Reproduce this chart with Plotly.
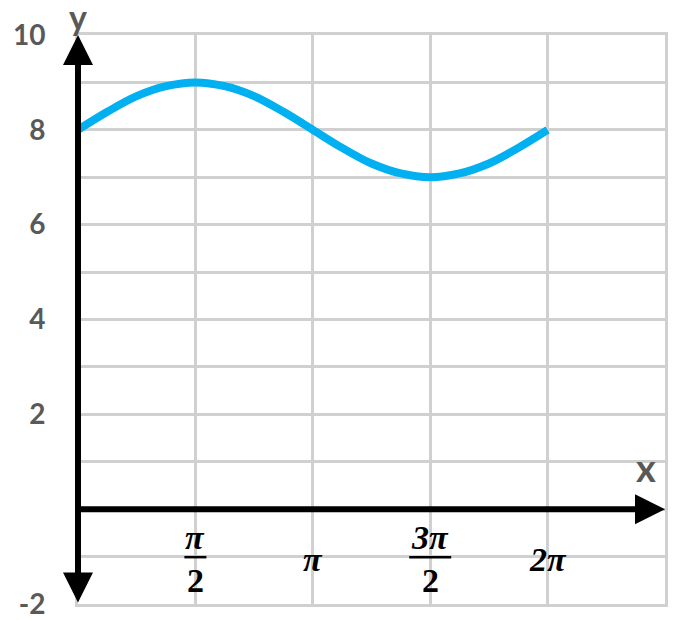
import plotly.graph_objects as go

# Curve values (x in radians, step ~pi/8)
x_vals = [0.0, 0.393, 0.785, 1.178, 1.571, 1.963, 2.356, 2.749, 3.142,
          3.534, 3.927, 4.320, 4.712, 5.105, 5.498, 5.890, 6.283]
y_vals = [8.0, 8.38, 8.71, 8.92, 9.0, 8.92, 8.71, 8.38, 8.0,
          7.62, 7.29, 7.08, 7.0, 7.08, 7.29, 7.62, 8.0]

# Axis setup
x_range = [0.0, 7.854]          # 0 .. 5*pi/2
y_range = [-2, 10]
x_grid_step = 1.5708            # pi/2
y_tick_vals = [-2, 2, 4, 6, 8, 10]
y_tick_text = ["-2", "2", "4", "6", "8", "10"]

# x tick labels (fractions drawn as numerator / bar / denominator)
frac_pos = [1.5708, 4.7124]
frac_num = ["π", "3π"]
frac_den = ["2", "2"]
frac_barw = [11, 21]
plain_pos = [3.1416, 6.2832]
plain_txt = ["π", "2π"]

GRID = "#D0D0D0"
GRAY = "#595959"
BLUE = "#00B0F0"

fig = go.Figure()
fig.add_trace(go.Scatter(x=x_vals, y=y_vals, mode="lines",
                         line=dict(color=BLUE, width=8, shape="spline"),
                         hoverinfo="skip", showlegend=False))

fig.update_layout(
    width=669, height=612,
    margin=dict(l=70, r=12, t=27, b=16),
    plot_bgcolor="white", paper_bgcolor="white",
    showlegend=False,
    xaxis=dict(range=x_range, tick0=0, dtick=x_grid_step, showgrid=True,
               gridcolor=GRID, gridwidth=3, zeroline=False,
               showticklabels=False, ticks="",
               showline=True, mirror=True, linecolor=GRID, linewidth=3,
               fixedrange=True),
    yaxis=dict(range=y_range, tickvals=y_tick_vals, ticktext=y_tick_text,
               showgrid=True, gridcolor=GRID, gridwidth=3, zeroline=False,
               ticks="", ticklabelstandoff=24,
               tickfont=dict(family="Lato", size=28, color=GRAY, weight="bold"),
               minor=dict(dtick=1, tick0=0, showgrid=True, gridcolor=GRID, gridwidth=3),
               showline=True, mirror=True, linecolor=GRID, linewidth=3,
               automargin=False, fixedrange=True),
)

# Axis arrows
fig.add_annotation(x=0, y=y_range[1], ax=0, ay=y_range[0], xref="x", yref="y",
                   axref="x", ayref="y", text="", showarrow=True,
                   arrowhead=2, startarrowhead=2, arrowside="end+start",
                   arrowwidth=6, arrowsize=1, startarrowsize=1,
                   arrowcolor="black", standoff=0, startstandoff=0)
fig.add_annotation(x=x_range[1], y=0, ax=0, ay=0, xref="x", yref="y",
                   axref="x", ayref="y", text="", showarrow=True,
                   arrowhead=2, arrowwidth=6, arrowsize=1,
                   arrowcolor="black", standoff=0)

# Axis names
fig.add_annotation(x=0, y=1, xref="x", yref="paper", text="<b>y</b>",
                   showarrow=False, yanchor="middle", yshift=19,
                   font=dict(family="Lato", size=34, color=GRAY))
fig.add_annotation(x=x_range[1], y=0, xref="x", yref="y", text="<b>x</b>",
                   showarrow=False, xshift=-19, yshift=42,
                   font=dict(family="Lato", size=38, color=GRAY))

LBL = dict(family="Liberation Serif", size=34, color="black")
for xp, n, d, bw in zip(frac_pos, frac_num, frac_den, frac_barw):
    fig.add_annotation(x=xp, y=0, xref="x", yref="y", text=f"<b><i>{n}</i></b>",
                       showarrow=False, yshift=-28, font=LBL)
    fig.add_annotation(x=xp, y=0, xref="x", yref="y", text=f"<b>{d}</b>",
                       showarrow=False, yshift=-71, font=LBL)
    fig.add_shape(type="line", xref="x", yref="y", xsizemode="pixel", ysizemode="pixel",
                  xanchor=xp, yanchor=0, x0=-bw, x1=bw, y0=-48, y1=-48,
                  line=dict(color="black", width=2.5))
for xp, t in zip(plain_pos, plain_txt):
    fig.add_annotation(x=xp, y=0, xref="x", yref="y", text=f"<b><i>{t}</i></b>",
                       showarrow=False, yshift=-50, font=LBL)

fig.write_html("out.html")
